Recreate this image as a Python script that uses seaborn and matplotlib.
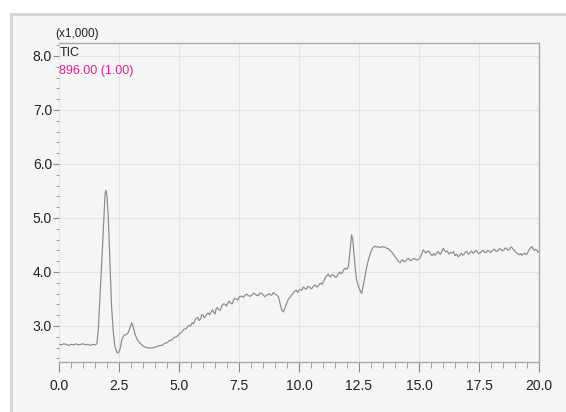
import numpy as np
import pandas as pd
import matplotlib
matplotlib.use("Agg")
import matplotlib.pyplot as plt
from matplotlib.patches import Rectangle
from matplotlib.ticker import MultipleLocator, FormatStrFormatter
import seaborn as sns

# Retention time (min), ten samples per row
time_min = [
    0.00, 0.10, 0.20, 0.30, 0.40, 0.50, 0.60, 0.70, 0.80, 0.90,
    1.00, 1.10, 1.20, 1.30, 1.40, 1.50, 1.58, 1.64, 1.70, 1.78,
    1.85, 1.92, 1.96, 2.00, 2.05, 2.12, 2.19, 2.26, 2.33, 2.42,
    2.50, 2.56, 2.62, 2.71, 2.80, 2.89, 2.96, 3.03, 3.10, 3.17,
    3.26, 3.38, 3.50, 3.65, 3.86, 4.00, 4.10, 4.20, 4.30, 4.40,
    4.50, 4.60, 4.70, 4.80, 4.90, 5.00, 5.10, 5.20, 5.30, 5.40,
    5.48, 5.55, 5.61, 5.67, 5.72, 5.78, 5.84, 5.90, 5.95, 6.00,
    6.05, 6.10, 6.16, 6.22, 6.28, 6.35, 6.40, 6.45, 6.50, 6.55,
    6.60, 6.65, 6.72, 6.78, 6.85, 6.92, 6.98, 7.05, 7.10, 7.15,
    7.22, 7.28, 7.34, 7.40, 7.45, 7.50, 7.55, 7.61, 7.68, 7.75,
    7.82, 7.90, 7.97, 8.05, 8.11, 8.17, 8.24, 8.30, 8.37, 8.45,
    8.52, 8.58, 8.64, 8.70, 8.76, 8.82, 8.88, 8.93, 8.99, 9.05,
    9.10, 9.15, 9.22, 9.28, 9.35, 9.45, 9.56, 9.63, 9.70, 9.77,
    9.83, 9.89, 9.95, 10.00, 10.05, 10.12, 10.18, 10.24, 10.30, 10.37,
    10.45, 10.50, 10.55, 10.61, 10.67, 10.74, 10.80, 10.86, 10.92, 10.97,
    11.01, 11.06, 11.10, 11.16, 11.22, 11.27, 11.32, 11.38, 11.45, 11.51,
    11.57, 11.63, 11.70, 11.75, 11.80, 11.86, 11.92, 11.99, 12.06, 12.13,
    12.19, 12.24, 12.29, 12.35, 12.40, 12.50, 12.61, 12.70, 12.80, 12.89,
    13.00, 13.08, 13.17, 13.24, 13.30, 13.38, 13.45, 13.52, 13.58, 13.65,
    13.72, 13.79, 13.86, 13.93, 14.00, 14.05, 14.10, 14.16, 14.21, 14.27,
    14.32, 14.38, 14.45, 14.50, 14.56, 14.63, 14.70, 14.78, 14.85, 14.91,
    14.97, 15.03, 15.08, 15.13, 15.18, 15.24, 15.30, 15.36, 15.42, 15.48,
    15.55, 15.61, 15.67, 15.74, 15.80, 15.85, 15.90, 15.96, 16.01, 16.06,
    16.12, 16.18, 16.25, 16.31, 16.38, 16.44, 16.50, 16.57, 16.64, 16.70,
    16.76, 16.82, 16.88, 16.94, 17.00, 17.05, 17.10, 17.15, 17.19, 17.25,
    17.30, 17.36, 17.42, 17.48, 17.55, 17.62, 17.68, 17.74, 17.80, 17.86,
    17.92, 17.98, 18.03, 18.09, 18.15, 18.21, 18.28, 18.34, 18.40, 18.46,
    18.52, 18.58, 18.65, 18.70, 18.76, 18.81, 18.86, 18.92, 18.98, 19.04,
    19.10, 19.15, 19.20, 19.24, 19.28, 19.34, 19.40, 19.45, 19.50, 19.55,
    19.60, 19.65, 19.70, 19.75, 19.80, 19.85, 19.90, 19.95, 20.00,
]
# Total ion current (x1,000 counts), aligned row by row with time_min
tic_k = [
    2.66, 2.65, 2.67, 2.66, 2.64, 2.66, 2.65, 2.67, 2.65, 2.66,
    2.67, 2.65, 2.66, 2.64, 2.66, 2.65, 2.67, 2.95, 3.50, 4.17,
    4.80, 5.45, 5.51, 5.40, 5.05, 4.20, 3.36, 2.90, 2.62, 2.50,
    2.52, 2.60, 2.75, 2.83, 2.84, 2.88, 2.97, 3.06, 2.97, 2.84,
    2.75, 2.68, 2.63, 2.60, 2.59, 2.61, 2.62, 2.64, 2.64, 2.68,
    2.69, 2.73, 2.74, 2.79, 2.80, 2.85, 2.88, 2.94, 2.95, 3.01,
    3.00, 3.06, 3.04, 3.11, 3.14, 3.16, 3.10, 3.13, 3.21, 3.20,
    3.15, 3.18, 3.22, 3.24, 3.21, 3.27, 3.30, 3.25, 3.22, 3.32,
    3.34, 3.30, 3.29, 3.37, 3.41, 3.40, 3.37, 3.44, 3.46, 3.42,
    3.41, 3.49, 3.51, 3.50, 3.48, 3.53, 3.55, 3.55, 3.53, 3.57,
    3.59, 3.56, 3.55, 3.58, 3.61, 3.59, 3.57, 3.56, 3.61, 3.60,
    3.57, 3.54, 3.57, 3.58, 3.60, 3.57, 3.58, 3.62, 3.59, 3.58,
    3.56, 3.53, 3.40, 3.30, 3.26, 3.38, 3.50, 3.53, 3.58, 3.61,
    3.65, 3.66, 3.62, 3.66, 3.68, 3.66, 3.72, 3.70, 3.68, 3.73,
    3.72, 3.69, 3.70, 3.74, 3.76, 3.72, 3.74, 3.78, 3.79, 3.77,
    3.82, 3.85, 3.90, 3.93, 3.96, 3.92, 3.91, 3.95, 3.94, 3.90,
    3.91, 3.96, 4.00, 3.97, 3.98, 4.04, 4.07, 4.05, 4.10, 4.40,
    4.69, 4.60, 4.35, 4.05, 3.85, 3.70, 3.60, 3.80, 4.05, 4.22,
    4.38, 4.45, 4.48, 4.46, 4.47, 4.45, 4.47, 4.46, 4.46, 4.44,
    4.43, 4.40, 4.37, 4.33, 4.28, 4.26, 4.22, 4.19, 4.17, 4.21,
    4.23, 4.19, 4.20, 4.24, 4.25, 4.21, 4.22, 4.25, 4.24, 4.22,
    4.23, 4.25, 4.30, 4.36, 4.41, 4.37, 4.35, 4.39, 4.38, 4.33,
    4.30, 4.34, 4.31, 4.35, 4.38, 4.34, 4.33, 4.39, 4.44, 4.40,
    4.37, 4.39, 4.33, 4.36, 4.35, 4.38, 4.30, 4.33, 4.28, 4.31,
    4.35, 4.31, 4.33, 4.37, 4.38, 4.33, 4.34, 4.37, 4.39, 4.35,
    4.36, 4.40, 4.38, 4.34, 4.35, 4.39, 4.40, 4.36, 4.36, 4.40,
    4.39, 4.36, 4.38, 4.41, 4.42, 4.38, 4.39, 4.43, 4.43, 4.39,
    4.40, 4.44, 4.44, 4.40, 4.41, 4.45, 4.46, 4.42, 4.40, 4.36,
    4.34, 4.33, 4.32, 4.34, 4.31, 4.33, 4.35, 4.32, 4.33, 4.38,
    4.42, 4.45, 4.47, 4.43, 4.40, 4.42, 4.41, 4.37, 4.38,
]

x_ticks = [0.0, 2.5, 5.0, 7.5, 10.0, 12.5, 15.0, 17.5, 20.0]
y_ticks = [3.0, 4.0, 5.0, 6.0, 7.0, 8.0]

df = pd.DataFrame({"Time": time_min, "TIC": tic_k})

sns.set_theme(style="ticks")
narrow = ["Liberation Sans Narrow", "Liberation Sans", "DejaVu Sans"]
plt.rcParams["font.family"] = narrow

W, H = 566, 412
fig = plt.figure(figsize=(W / 100, H / 100), dpi=100, facecolor="white")

panel_bg = "#f4f5f5"
# Instrument panel behind the chart
fig.patches.append(Rectangle((11 / W, -0.05), 1.1, (H - 14) / H + 0.05,
                             transform=fig.transFigure, facecolor=panel_bg,
                             edgecolor="#d4d4d4", linewidth=2, zorder=-5))

ax = fig.add_axes([59 / W, 1 - 362 / H, 480 / W, 319 / H])
ax.set_facecolor(panel_bg)

sns.lineplot(data=df, x="Time", y="TIC", ax=ax, color="#8a8a8a",
             linewidth=0.85, zorder=3)

ax.set_xlim(0, 20)
ax.set_ylim(2.333, 8.24)
ax.set_xticks(x_ticks)
ax.set_yticks(y_ticks)
ax.xaxis.set_minor_locator(MultipleLocator(0.5))
ax.yaxis.set_minor_locator(MultipleLocator(0.2))
ax.xaxis.set_major_formatter(FormatStrFormatter("%.1f"))
ax.yaxis.set_major_formatter(FormatStrFormatter("%.1f"))
ax.set_xlabel("")
ax.set_ylabel("")

ax.grid(True, which="major", color="#e2e3e3", linewidth=0.8, zorder=1)
ax.set_axisbelow(True)

for side in ("top", "right", "bottom"):
    ax.spines[side].set_color("#a9a9a9")
    ax.spines[side].set_linewidth(1.0)
ax.spines["left"].set_visible(False)

ax.tick_params(axis="x", which="major", length=7, width=0.8, color="#8c8c8c",
               pad=5, labelsize=10, labelcolor="#222222")
ax.tick_params(axis="x", which="minor", length=4, width=0.7, color="#9a9a9a")
ax.tick_params(axis="y", which="major", length=4, width=0.8, color="#8c8c8c",
               pad=1, labelsize=10, labelcolor="#222222")
ax.tick_params(axis="y", which="minor", length=2.5, width=0.7, color="#9a9a9a")

fig.text(55 / W, 1 - 34 / H, "(x1,000)", fontsize=8.5, color="#222222",
         ha="left", va="center")
fig.text(59.5 / W, 1 - 53 / H, "TIC", fontsize=9, color="#222222",
         ha="left", va="center")
fig.text(59 / W, 1 - 71 / H, "896.00 (1.00)", fontsize=9, color="#e2208f",
         ha="left", va="center")

fig.savefig("out.png", dpi=100, facecolor=fig.get_facecolor())
